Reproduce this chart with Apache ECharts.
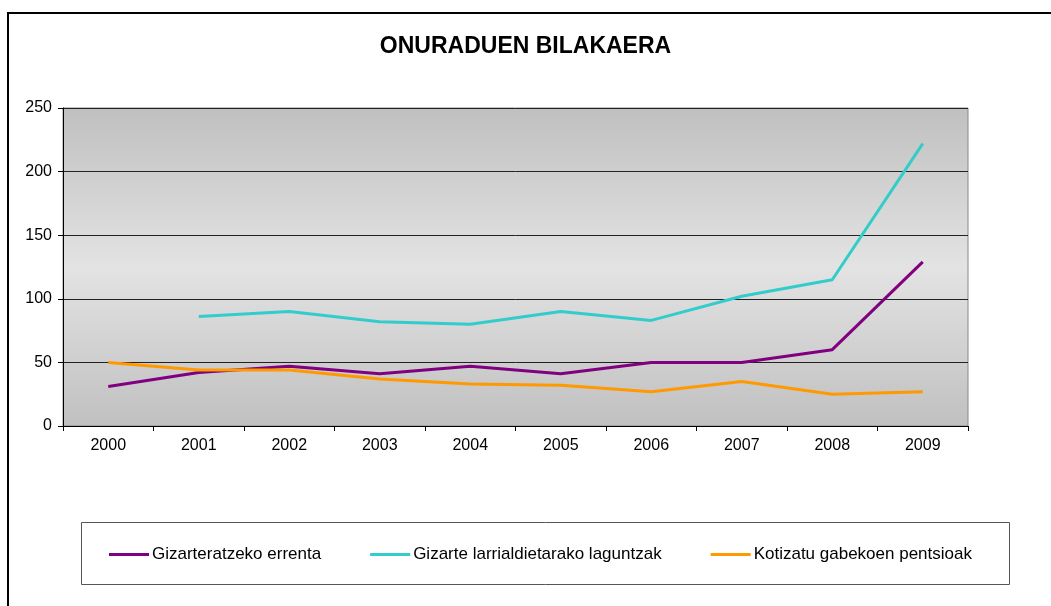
<!DOCTYPE html>
<html>
<head>
<meta charset="utf-8">
<script src="https://cdn.jsdelivr.net/npm/echarts@6/dist/echarts.min.js"></script>
<style>
  html, body { margin: 0; padding: 0; background: #fff; }
  #chart-container { width: 1051px; height: 606px; }
</style>
</head>
<body>
<div id="chart-container"></div>
<script>
var years = ['2000', '2001', '2002', '2003', '2004', '2005', '2006', '2007', '2008', '2009'];
var seriesNames = ['Gizarteratzeko errenta', 'Gizarte larrialdietarako laguntzak', 'Kotizatu gabekoen pentsioak'];
var errenta = [31, 42, 47, 41, 47, 41, 50, 50, 60, 129];
var laguntzak = [null, 86, 90, 82, 80, 90, 83, 102, 115, 222];
var pentsioak = [50, 44, 44, 37, 33, 32, 27, 35, 25, 27];
var yTicks = [0, 50, 100, 150, 200, 250];

var fontName = 'Liberation Sans, Arial, sans-serif';
var colors = ['#800080', '#33CCCC', '#FF9900'];

var option = {
    animation: false,
    color: colors,
    textStyle: { fontFamily: fontName },
    title: {
        text: 'ONURADUEN BILAKAERA',
        left: 'center',
        top: 30,
        textStyle: { fontSize: 23, fontWeight: 'bold', color: '#000', fontFamily: fontName }
    },
    graphic: [
        { // outer chart frame
            type: 'rect',
            shape: { x: 8, y: 13, width: 1060, height: 620 },
            style: { fill: 'none', stroke: '#000', lineWidth: 2 },
            silent: true
        },
        { // legend box
            type: 'rect',
            shape: { x: 81.5, y: 522.5, width: 928, height: 62 },
            style: { fill: '#fff', stroke: '#555', lineWidth: 1 },
            silent: true,
            z: -1
        }
    ],
    grid: {
        left: 63,
        right: 83,
        top: 108,
        bottom: 180,
        show: true,
        borderColor: '#888',
        borderWidth: 1,
        backgroundColor: {
            type: 'linear', x: 0, y: 0, x2: 0, y2: 1,
            colorStops: [
                { offset: 0, color: '#c0c0c0' },
                { offset: 0.5, color: '#e3e3e3' },
                { offset: 1, color: '#c0c0c0' }
            ]
        }
    },
    legend: {
        left: 104,
        top: 541,
        icon: 'rect',
        itemWidth: 40,
        itemHeight: 3,
        itemGap: 49,
        textStyle: { fontSize: 17, color: '#000', fontFamily: fontName, padding: [0, 0, 0, -2] },
        data: seriesNames
    },
    xAxis: {
        type: 'category',
        data: years,
        boundaryGap: true,
        axisLine: { lineStyle: { color: '#000', width: 1 } },
        axisTick: { show: true, length: 5, inside: false, lineStyle: { color: '#000' } },
        axisLabel: { fontSize: 16, color: '#000', margin: 12, fontFamily: fontName }
    },
    yAxis: {
        type: 'value',
        min: yTicks[0],
        max: yTicks[yTicks.length - 1],
        interval: 50,
        axisLine: { show: true, lineStyle: { color: '#000', width: 1 } },
        axisTick: { show: true, length: 5, lineStyle: { color: '#000' } },
        axisLabel: { fontSize: 16, color: '#000', margin: 11, fontFamily: fontName },
        splitLine: { show: true, lineStyle: { color: '#222', width: 1 } }
    },
    series: [
        { name: seriesNames[0], type: 'line', data: errenta, symbol: 'none', lineStyle: { width: 3, color: colors[0] } },
        { name: seriesNames[1], type: 'line', data: laguntzak, symbol: 'none', lineStyle: { width: 3, color: colors[1] } },
        { name: seriesNames[2], type: 'line', data: pentsioak, symbol: 'none', lineStyle: { width: 3, color: colors[2] } }
    ]
};

var myChart = echarts.init(document.getElementById('chart-container'));
myChart.setOption(option);
</script>
</body>
</html>
